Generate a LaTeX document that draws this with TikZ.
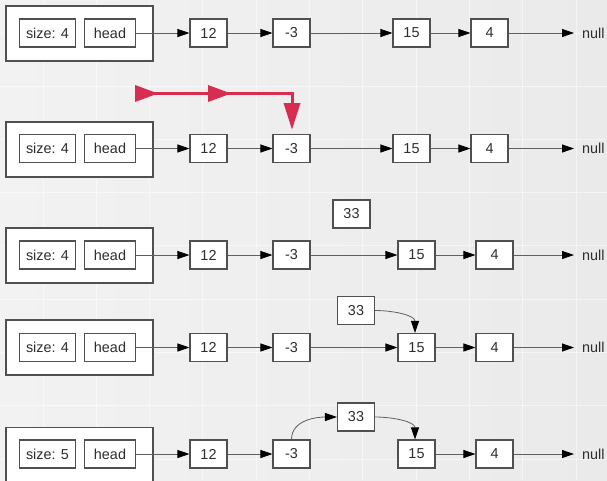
\documentclass[tikz,border=0pt]{standalone}
\usepackage{fontspec}
\setmainfont{Liberation Sans}
\usetikzlibrary{arrows.meta}
\definecolor{boxgray}{HTML}{505050}
\definecolor{linegray}{HTML}{606060}
\definecolor{txt}{HTML}{2E2E2E}
\definecolor{redarrow}{HTML}{D62D50}
\definecolor{bgl}{HTML}{F2F2F2}
\definecolor{bgm}{HTML}{E3E3E3}
\definecolor{bgr}{HTML}{EAEAEA}
\begin{document}
\begin{tikzpicture}[x=1pt,y=-1pt,
  outerbox/.style={draw=boxgray, fill=white, line width=1.05pt, minimum width=147pt, minimum height=55pt, inner sep=0pt},
  cell/.style={draw=boxgray, fill=white, line width=1.05pt, minimum height=28pt, minimum width=37pt, inner sep=0pt, text=txt, font=\fontsize{14.4}{17}\selectfont},
  sizecell/.style={cell, minimum width=56pt},
  headcell/.style={cell, minimum width=51pt},
  nulltext/.style={inner sep=0pt, anchor=west, text=txt, font=\fontsize{14.4}{17}\selectfont},
  ptr/.style={draw=linegray, line width=0.8pt, -{Triangle[length=12pt,width=8pt,black]}},
  gridline/.style={draw=white, line width=1pt, opacity=0.5},
  redline/.style={draw=redarrow, line width=3pt},
  redtip/.style={fill=redarrow}
]
\useasboundingbox (0,0) rectangle (607,480);
\shade[shading=axis, left color=bgl, middle color=bgm, right color=bgr, shading angle=90] (0,0) rectangle (607,480);
\foreach \gx in {43,96.3,149.6,202.9,256.2,309.5,362.8,416.1,469.4,522.7,576} {
  \draw[gridline] (\gx,0) -- (\gx,480);
}
\foreach \gy in {33,86,139.3,192.6,245.9,299.2,352.5,405.8,459.1} {
  \draw[gridline] (0,\gy) -- (607,\gy);
}

% ---------- row 1 ----------
\node[outerbox] (r1o) at (79.5,33.5) {};
\node[sizecell] (r1s) at (47.5,33) {size: 4};
\node[headcell] (r1h) at (110,33) {head};
\node[cell] (r1a) at (208.5,33) {12};
\node[cell] (r1b) at (291.5,33) {-3};
\node[cell] (r1c) at (411.5,33) {15};
\node[cell] (r1d) at (489.5,33) {4};
\node[nulltext] (r1n) at (582,33) {null};
\draw[ptr] (r1h.east) -- (r1a.west);
\draw[ptr] (r1a.east) -- (r1b.west);
\draw[ptr] (r1b.east) -- (r1c.west);
\draw[ptr] (r1c.east) -- (r1d.west);
\draw[ptr, shorten >=8pt] (r1d.east) -- (r1n.west);

% ---------- red arrow ----------
\coordinate (ra) at (135,93.5);
\coordinate (rb) at (292,93.5);
\coordinate (rc) at (292,104);
\draw[redline] (ra) -- (rb) -- (rc);
\fill[redtip] (135,85) -- (135,102) -- (158,93.5) -- cycle;
\fill[redtip] (208,85) -- (208,102) -- (231,93.5) -- cycle;
\fill[redtip] (283.5,103) -- (300.5,103) -- (292,129.5) -- cycle;

% ---------- row 2 ----------
\node[outerbox] (r2o) at (79.5,149.5) {};
\node[sizecell] (r2s) at (47.5,148.5) {size: 4};
\node[headcell] (r2h) at (110,148.5) {head};
\node[cell] (r2a) at (208.5,148.5) {12};
\node[cell] (r2b) at (291.5,148.5) {-3};
\node[cell] (r2c) at (411.5,148.5) {15};
\node[cell] (r2d) at (489.5,148.5) {4};
\node[nulltext] (r2n) at (582,148.5) {null};
\draw[ptr] (r2h.east) -- (r2a.west);
\draw[ptr] (r2a.east) -- (r2b.west);
\draw[ptr] (r2b.east) -- (r2c.west);
\draw[ptr] (r2c.east) -- (r2d.west);
\draw[ptr, shorten >=8pt] (r2d.east) -- (r2n.west);

% ---------- row 3 ----------
\node[outerbox] (r3o) at (79.5,255.5) {};
\node[sizecell] (r3s) at (47.5,255) {size: 4};
\node[headcell] (r3h) at (110,255) {head};
\node[cell] (r3a) at (208.5,255) {12};
\node[cell] (r3b) at (291.5,255) {-3};
\node[cell] (r3c) at (416.5,255) {15};
\node[cell] (r3d) at (494.5,255) {4};
\node[nulltext] (r3n) at (582,255) {null};
\node[cell] (r3x) at (351.5,214) {33};
\draw[ptr] (r3h.east) -- (r3a.west);
\draw[ptr] (r3a.east) -- (r3b.west);
\draw[ptr] (r3b.east) -- (r3c.west);
\draw[ptr] (r3c.east) -- (r3d.west);
\draw[ptr, shorten >=8pt] (r3d.east) -- (r3n.west);

% ---------- row 4 ----------
\node[outerbox] (r4o) at (79.5,347.5) {};
\node[sizecell] (r4s) at (47.5,347.5) {size: 4};
\node[headcell] (r4h) at (110,347.5) {head};
\node[cell] (r4a) at (208.5,347.5) {12};
\node[cell] (r4b) at (291.5,347.5) {-3};
\node[cell] (r4c) at (416.5,347.5) {15};
\node[cell] (r4d) at (494.5,347.5) {4};
\node[nulltext] (r4n) at (582,347.5) {null};
\node[cell] (r4x) at (356,310.5) {33};
\draw[ptr] (r4h.east) -- (r4a.west);
\draw[ptr] (r4a.east) -- (r4b.west);
\draw[ptr] (r4b.east) -- (r4c.west);
\draw[ptr] (r4c.east) -- (r4d.west);
\draw[ptr, shorten >=8pt] (r4d.east) -- (r4n.west);
\draw[ptr] (r4x.east) to[out=0, in=90] ([xshift=-1.5pt]r4c.north);

% ---------- row 5 ----------
\node[outerbox] (r5o) at (79.5,455) {};
\node[sizecell] (r5s) at (47.5,454) {size: 5};
\node[headcell] (r5h) at (110,454) {head};
\node[cell] (r5a) at (208.5,454) {12};
\node[cell] (r5b) at (291.5,454) {-3};
\node[cell] (r5c) at (416.5,454) {15};
\node[cell] (r5d) at (494.5,454) {4};
\node[nulltext] (r5n) at (582,454) {null};
\node[cell] (r5x) at (356,417) {33};
\draw[ptr] (r5h.east) -- (r5a.west);
\draw[ptr] (r5a.east) -- (r5b.west);
\draw[ptr] (r5c.east) -- (r5d.west);
\draw[ptr, shorten >=8pt] (r5d.east) -- (r5n.west);
\draw[ptr] (r5b.north) to[out=90, in=180] (r5x.west);
\draw[ptr] (r5x.east) to[out=0, in=90] ([xshift=-1.5pt]r5c.north);
\end{tikzpicture}
\end{document}
